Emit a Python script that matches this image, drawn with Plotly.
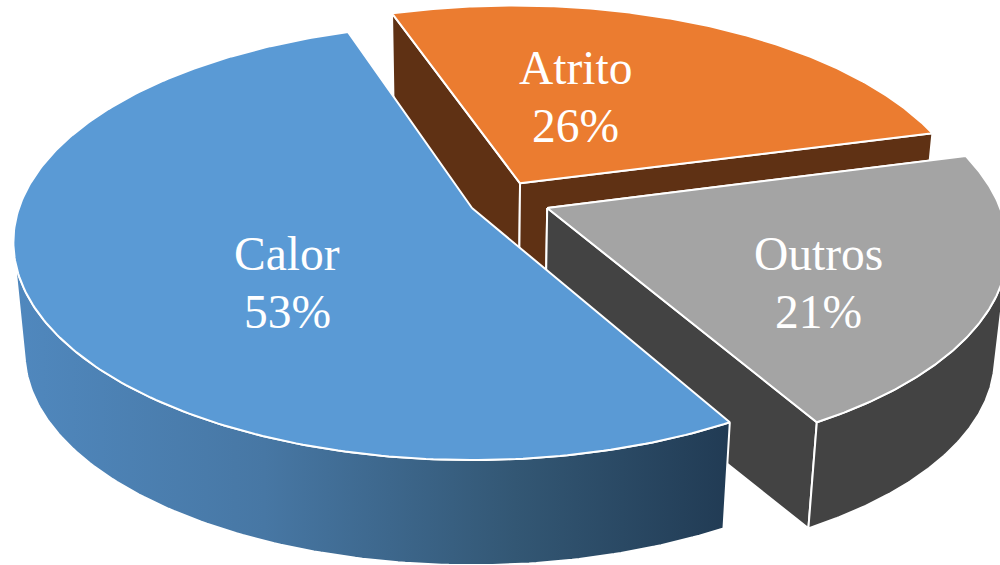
import numpy as np
import plotly.graph_objects as go

# --- data ---
categories = ["Atrito", "Outros", "Calor"]
percents = [26.0, 20.9, 53.1]
explode_x = [0.1080, 0.1660, 0.0]
explode_y = [0.1180, 0.0, 0.0]
top_colors = ["#EB7C30", "#A4A4A4", "#5A9AD5"]
wall_colors = ["#5F3114", "#434343", None]
label_x = [575, 818, 287]
label_y = [68, 254, 254]
first_angle = -18.3

# --- view geometry ---
CX, CY, R, H, K = 472.0, 208.0, 453.0, 212.7, 0.156
VP = np.array([472.0, 4750.0])
T = 0.0245
LINE = dict(color="white", width=2)


def project(x, y):
    s = 1 + K * y
    return CX + R * x / s, CY - H * y / s


def drop(px, py):
    return px + T * (VP[0] - px), py + T * (VP[1] - py)


def rim(a0, a1, ox, oy, n=240):
    t = np.radians(np.linspace(a0, a1, n))
    return project(np.sin(t) + ox, np.cos(t) + oy)


def poly(xs, ys, **kw):
    return go.Scatter(x=np.round(xs, 2), y=np.round(ys, 2), mode="lines", fill="toself",
                      hoverinfo="skip", showlegend=False, **kw)


def silhouette_cut(xs, ys):
    """how far the wall's edge is from being tangent to the rim at each rim point"""
    bx, by = drop(xs, ys)
    dx, dy = np.gradient(xs), np.gradient(ys)
    return np.abs(dx * (by - ys) - dy * (bx - xs))


fig = go.Figure()
spans = np.array(percents) * 3.6
starts = first_angle + np.concatenate([[0], np.cumsum(spans)[:-1]])

for i, name in enumerate(categories):
    a0, a1 = starts[i], starts[i] + spans[i]
    ox, oy = explode_x[i], explode_y[i]
    rx, ry = rim(a0, a1, ox, oy)
    ax, ay = project(ox, oy)
    bax, bay = drop(ax, ay)
    brx, bry = drop(rx, ry)

    # inner faces
    if name != "Calor":
        for j in (0, -1):
            fig.add_trace(poly([ax, rx[j], brx[j], bax, ax], [ay, ry[j], bry[j], bay, ay],
                               fillcolor=wall_colors[i], line=LINE))

    # outer wall
    if name != "Atrito":
        score = silhouette_cut(rx, ry)
        if name == "Calor":
            sel = np.arange(len(rx))[(rx < CX - 300) & (ry > CY + 20)]
            cut = sel[np.argmin(score[sel])]
            wx = np.r_[rx[:cut + 1], brx[:cut + 1][::-1], rx[0]]
            wy = np.r_[ry[:cut + 1], bry[:cut + 1][::-1], ry[0]]
            fig.add_trace(poly(wx, wy, line=LINE,
                               fillgradient=dict(type="horizontal",
                                                 colorscale=[[0, "#5088BE"], [0.35, "#4777A4"],
                                                             [0.7, "#335774"], [1, "#213B54"]])))
        else:
            sel = np.arange(len(rx))[rx > CX + 400]
            cut = sel[np.argmin(score[sel])]
            wx = np.r_[rx[cut:], brx[cut:][::-1], rx[cut]]
            wy = np.r_[ry[cut:], bry[cut:][::-1], ry[cut]]
            fig.add_trace(poly(wx, wy, fillcolor=wall_colors[i], line=LINE))

    # top face
    fig.add_trace(poly(np.r_[ax, rx, ax], np.r_[ay, ry, ay], fillcolor=top_colors[i], line=LINE))

annotations = []
for i, name in enumerate(categories):
    for text, dy in ((name, 0), (f"{round(percents[i])}%", 58)):
        annotations.append(dict(x=label_x[i], y=label_y[i] + dy, text=text, showarrow=False,
                                xanchor="center", yanchor="middle",
                                font=dict(family="Liberation Serif", size=47.5, color="white")))

fig.update_layout(
    width=1000, height=565, margin=dict(l=0, r=0, t=0, b=0),
    paper_bgcolor="white", plot_bgcolor="white", showlegend=False,
    xaxis=dict(range=[0, 1000], visible=False, fixedrange=True),
    yaxis=dict(range=[565, 0], visible=False, fixedrange=True),
    annotations=annotations,
)
fig.write_html("out.html", config={"displayModeBar": False},
               post_script="document.body.style.margin='0';")
